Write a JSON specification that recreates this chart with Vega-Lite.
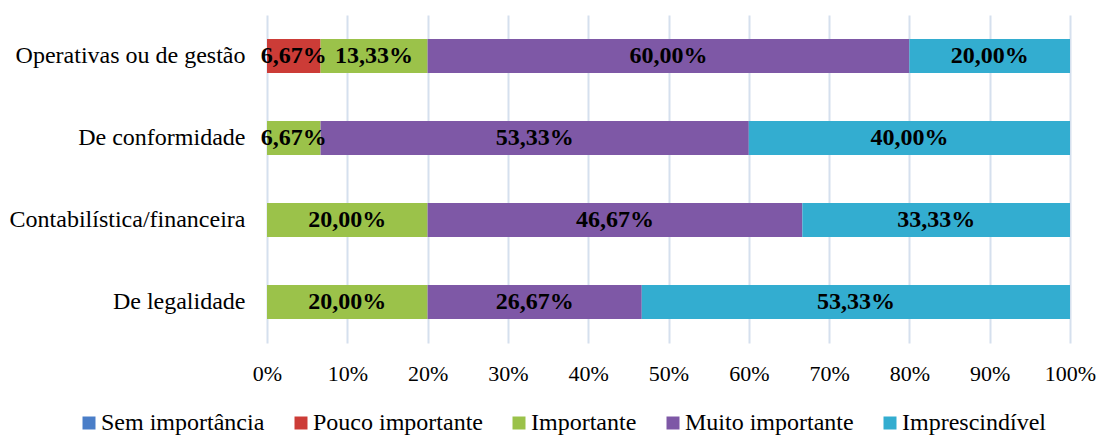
{
  "$schema": "https://vega.github.io/schema/vega-lite/v6.json",
  "width": 803,
  "height": 328,
  "autosize": {"type": "none"},
  "padding": {"left": 267, "top": 15, "right": 27, "bottom": 92},
  "background": "white",
  "config": {
    "locale": {"number": {"decimal": ",", "thousands": ".", "grouping": [3], "currency": ["", " €"]}},
    "font": "Liberation Serif",
    "view": {"stroke": null}
  },
  "data": {
    "values": [
      {"cat": "Operativas ou de gestão", "nivel": "Pouco importante", "k": 2, "v": 0.0667},
      {"cat": "Operativas ou de gestão", "nivel": "Importante", "k": 3, "v": 0.1333},
      {"cat": "Operativas ou de gestão", "nivel": "Muito importante", "k": 4, "v": 0.6},
      {"cat": "Operativas ou de gestão", "nivel": "Imprescindível", "k": 5, "v": 0.2},
      {"cat": "De conformidade", "nivel": "Importante", "k": 3, "v": 0.0667},
      {"cat": "De conformidade", "nivel": "Muito importante", "k": 4, "v": 0.5333},
      {"cat": "De conformidade", "nivel": "Imprescindível", "k": 5, "v": 0.4},
      {"cat": "Contabilística/financeira", "nivel": "Importante", "k": 3, "v": 0.2},
      {"cat": "Contabilística/financeira", "nivel": "Muito importante", "k": 4, "v": 0.4667},
      {"cat": "Contabilística/financeira", "nivel": "Imprescindível", "k": 5, "v": 0.3333},
      {"cat": "De legalidade", "nivel": "Importante", "k": 3, "v": 0.2},
      {"cat": "De legalidade", "nivel": "Muito importante", "k": 4, "v": 0.2667},
      {"cat": "De legalidade", "nivel": "Imprescindível", "k": 5, "v": 0.5333}
    ]
  },
  "encoding": {
    "y": {
      "field": "cat", "type": "nominal",
      "sort": ["Operativas ou de gestão", "De conformidade", "Contabilística/financeira", "De legalidade"],
      "scale": {"paddingInner": 0.585, "paddingOuter": 0.2925},
      "axis": {"title": null, "ticks": false, "domain": false, "labelFont": "Liberation Serif", "labelFontSize": 24, "labelColor": "#000000", "labelPadding": 22, "labelLimit": 400}
    },
    "x": {
      "field": "v", "type": "quantitative", "stack": "zero",
      "scale": {"domain": [0, 1], "nice": false},
      "axis": {"title": null, "format": ".0%", "values": [0, 0.1, 0.2, 0.3, 0.4, 0.5, 0.6, 0.7, 0.8, 0.9, 1], "ticks": false, "domain": false, "grid": true, "gridColor": "#d5e0ee", "gridWidth": 2, "labelFont": "Liberation Serif", "labelFontSize": 22, "labelColor": "#000000", "labelPadding": 20, "labelFlush": false}
    },
    "order": {"field": "k", "type": "quantitative"}
  },
  "layer": [
    {
      "mark": {"type": "bar"},
      "encoding": {
        "color": {
          "field": "nivel", "type": "nominal",
          "scale": {
            "domain": ["Sem importância", "Pouco importante", "Importante", "Muito importante", "Imprescindível"],
            "range": ["#4A7EC8", "#CC3C37", "#9BC24A", "#7E58A6", "#33ADD0"]
          },
          "legend": {
            "title": null, "orient": "none", "direction": "horizontal",
            "legendX": -190, "legendY": 396, "padding": 0,
            "symbolType": "square", "symbolSize": 169, "symbolStrokeWidth": 0, "symbolOpacity": 1,
            "labelFont": "Liberation Serif", "labelFontSize": 24, "labelColor": "#000000",
            "labelOffset": 0, "columnPadding": 24, "labelLimit": 300
          }
        }
      }
    },
    {
      "mark": {"type": "text", "font": "Liberation Serif", "fontSize": 24, "fontWeight": "bold", "color": "#000000", "align": "center", "baseline": "middle"},
      "encoding": {
        "x": {"field": "v", "type": "quantitative", "stack": "zero", "bandPosition": 0.5},
        "text": {"field": "v", "type": "quantitative", "format": ".2%"}
      }
    }
  ]
}
